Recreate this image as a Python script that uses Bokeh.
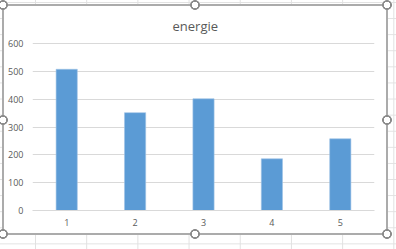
from bokeh.plotting import figure
from bokeh.models import ColumnDataSource, FactorRange, FixedTicker, Range1d
from bokeh.embed import file_html
from bokeh.resources import INLINE

# data
categories = ["1", "2", "3", "4", "5"]
energie = [508, 352, 402, 186, 258]
y_ticks = [0, 100, 200, 300, 400, 500, 600]
title_text = "energie"

source = ColumnDataSource(data=dict(cat=categories, val=energie))

p = figure(width=396, height=249, x_range=FactorRange(*categories), y_range=Range1d(0, 608),
           output_backend="svg", toolbar_location=None, title=title_text,
           min_border_left=32, min_border_right=22, min_border_top=41, min_border_bottom=39)
p.background_fill_color = "white"
p.border_fill_color = None
p.outline_line_color = None

p.title.align = "left"
p.title.offset = 140
p.title.vertical_align = "top"
p.title.text_font = "Open Sans"
p.title.text_font_size = "13px"
p.title.text_font_style = "normal"
p.title.text_color = "#595959"

p.vbar(x="cat", top="val", width=0.31, source=source,
       fill_color="#5b9bd5", line_color="#9fc3e6", line_width=0.6)

# axes
p.yaxis.ticker = FixedTicker(ticks=y_ticks)
p.yaxis.axis_line_color = None
p.yaxis.major_tick_line_color = None
p.yaxis.minor_tick_line_color = None
p.yaxis.major_label_text_font = "Open Sans"
p.yaxis.major_label_text_font_size = "9px"
p.yaxis.major_label_text_color = "#595959"
p.yaxis.major_label_standoff = 3

p.xaxis.axis_line_color = "#d9d9d9"
p.xaxis.major_tick_line_color = None
p.xaxis.minor_tick_line_color = None
p.xaxis.major_label_text_font = "Open Sans"
p.xaxis.major_label_text_font_size = "9px"
p.xaxis.major_label_text_color = "#595959"
p.xaxis.major_label_standoff = 2

p.xgrid.grid_line_color = None
p.ygrid.grid_line_color = "#d9d9d9"
p.ygrid.grid_line_width = 1

# decoration behind the transparent border: spreadsheet grid, chart-area frame, selection handles
handles = [(3, 5), (195, 5), (387, 5), (3, 120), (387, 120), (3, 234), (195, 234), (387, 234)]
layers, sizes, positions, repeats = [], [], [], []
for hx, hy in handles:
    layers.append(f"radial-gradient(circle at {hx}px {hy}px, #ffffff 0, #ffffff 3px, "
                  f"#8c8c8c 3.3px, #8c8c8c 4.6px, rgba(255,255,255,0) 5.2px)")
    sizes.append("100% 100%"); positions.append("0 0"); repeats.append("no-repeat")
# white chart area and its gray frame
layers.append("linear-gradient(#ffffff, #ffffff)")
sizes.append("382px 227px"); positions.append("4px 6px"); repeats.append("no-repeat")
layers.append("linear-gradient(#ababab, #ababab)")
sizes.append("386px 231px"); positions.append("2px 4px"); repeats.append("no-repeat")
# spreadsheet grid
layers.append("linear-gradient(90deg, #e1e1e1 0, #e1e1e1 1px, rgba(255,255,255,0) 1px)")
sizes.append("51.2px 100%"); positions.append("35px 0"); repeats.append("repeat-x")
layers.append("linear-gradient(180deg, #e1e1e1 0, #e1e1e1 1px, rgba(255,255,255,0) 1px)")
sizes.append("100% 16.1px"); positions.append("0 2px"); repeats.append("repeat-y")

p.styles = {
    "background-color": "#ffffff",
    "background-image": ", ".join(layers),
    "background-size": ", ".join(sizes),
    "background-position": ", ".join(positions),
    "background-repeat": ", ".join(repeats),
}

open("out.html", "w").write(file_html(p, INLINE))
